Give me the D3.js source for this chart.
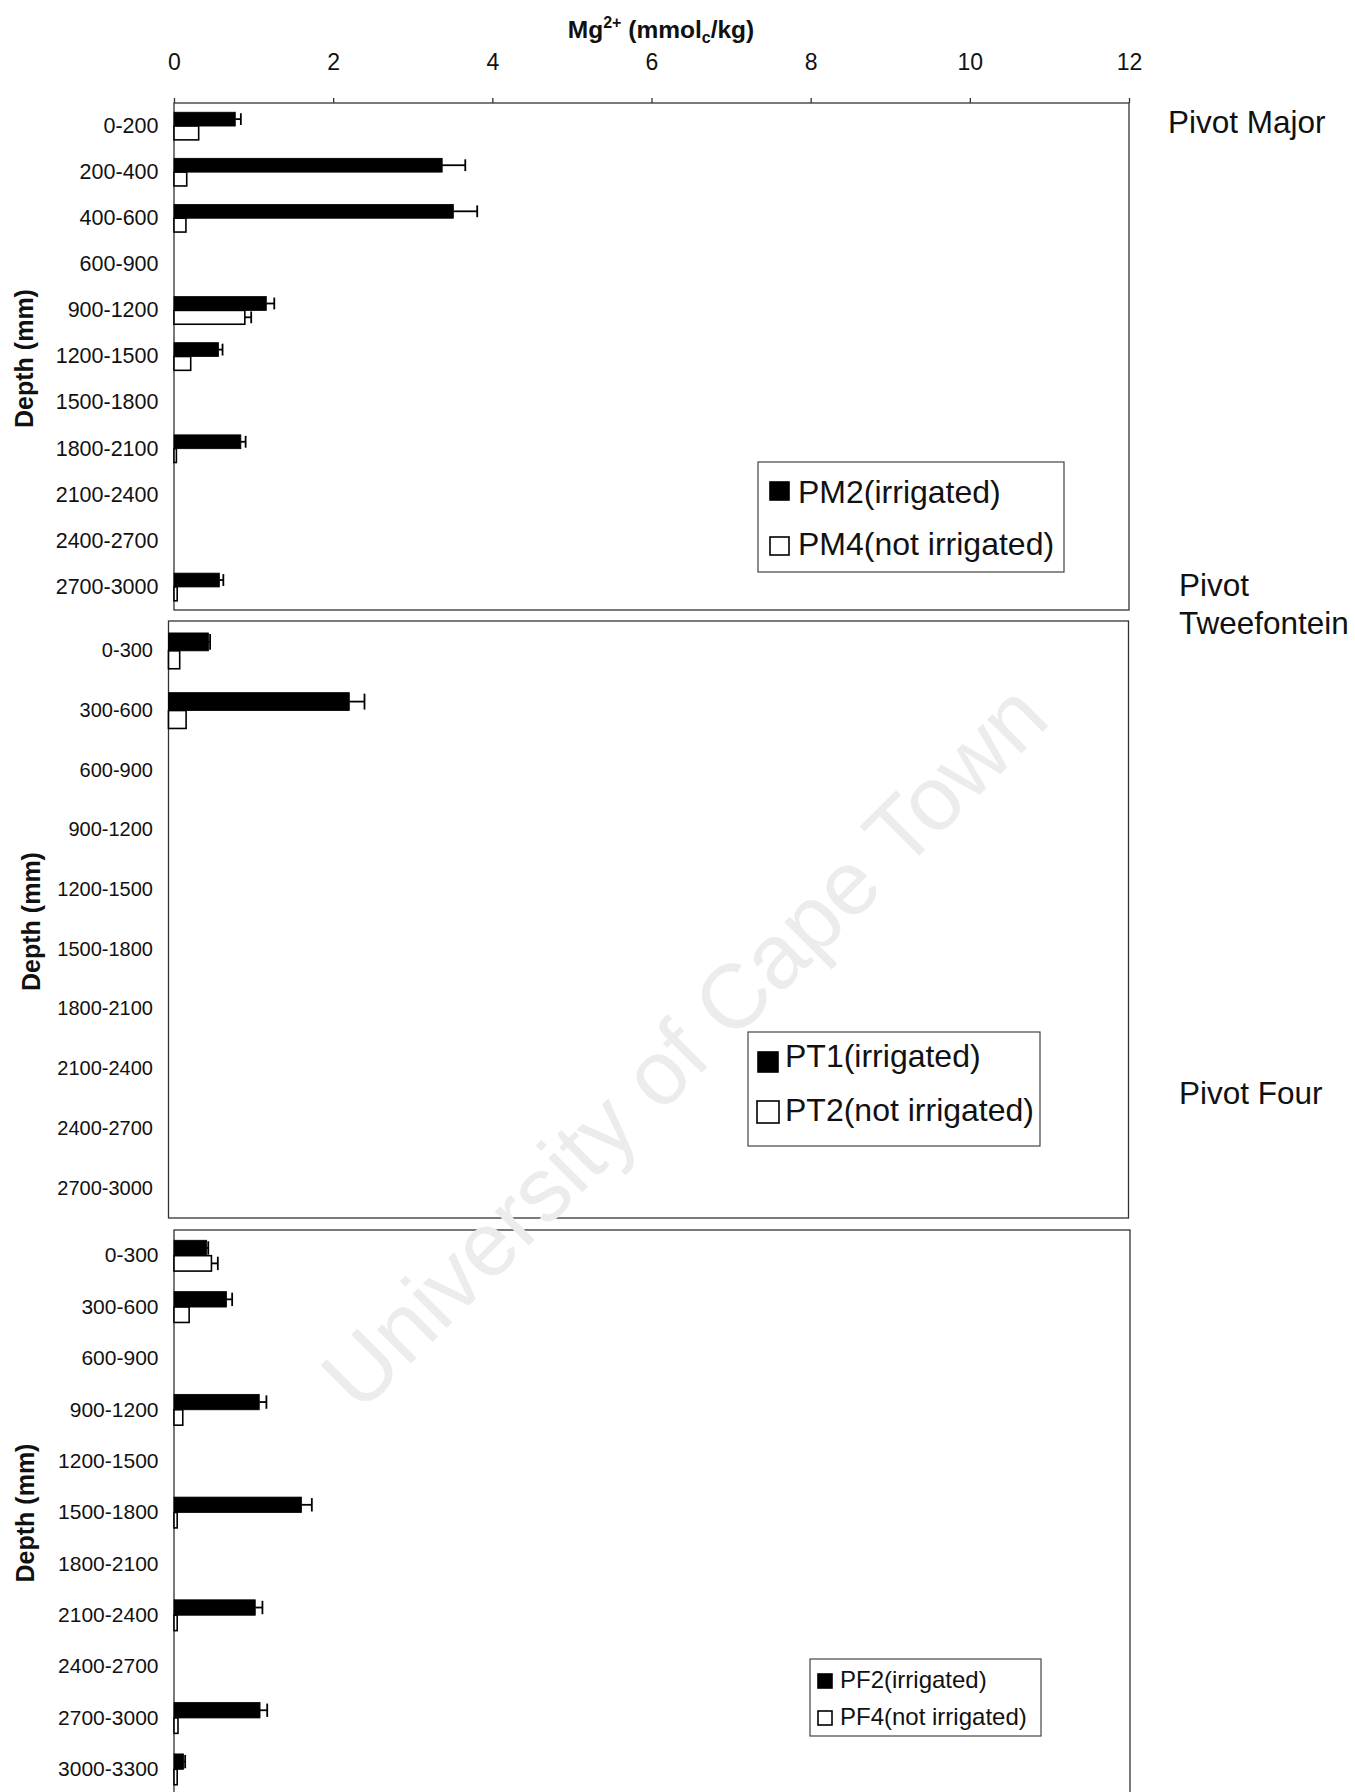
<!DOCTYPE html>
<html>
<head>
<meta charset="utf-8">
<script src="https://cdn.jsdelivr.net/npm/d3@7"></script>
<style>
  html, body { margin: 0; padding: 0; background: #fff; }
  svg { display: block; font-family: "Liberation Sans", Arial, sans-serif; }
</style>
</head>
<body>
<svg id="chart" width="1355" height="1792"></svg>
<script>
// ---- Data: Mg2+ (mmolc/kg) by depth interval (mm) ----
// Pivot Major
const pmDepths = ["0-200", "200-400", "400-600", "600-900", "900-1200", "1200-1500",
                  "1500-1800", "1800-2100", "2100-2400", "2400-2700", "2700-3000"];
const pm2    = [0.77, 3.37, 3.51, null, 1.16, 0.56, null, 0.84, null, null, 0.57];
const pm2Err = [0.07, 0.29, 0.30, null, 0.10, 0.05, null, 0.06, null, null, 0.05];
const pm4    = [0.31, 0.16, 0.15, null, 0.89, 0.21, null, 0.03, null, null, 0.04];
const pm4Err = [0, 0, 0, null, 0.08, 0, null, 0, null, null, 0];

// Pivot Tweefontein
const ptDepths = ["0-300", "300-600", "600-900", "900-1200", "1200-1500",
                  "1500-1800", "1800-2100", "2100-2400", "2400-2700", "2700-3000"];
const pt1    = [0.50, 2.26, null, null, null, null, null, null, null, null];
const pt1Err = [0.02, 0.19, null, null, null, null, null, null, null, null];
const pt2    = [0.14, 0.22, null, null, null, null, null, null, null, null];
const pt2Err = [0, 0, null, null, null, null, null, null, null, null];

// Pivot Four
const pfDepths = ["0-300", "300-600", "600-900", "900-1200", "1200-1500", "1500-1800",
                  "1800-2100", "2100-2400", "2400-2700", "2700-3000", "3000-3300"];
const pf2    = [0.41, 0.66, null, 1.07, null, 1.60, null, 1.02, null, 1.08, 0.12];
const pf2Err = [0.02, 0.07, null, 0.09, null, 0.13, null, 0.09, null, 0.09, 0.02];
const pf4    = [0.47, 0.19, null, 0.11, null, 0.04, null, 0.04, null, 0.05, 0.04];
const pf4Err = [0.08, 0, null, 0, null, 0, null, 0, null, 0, 0];

const xTicks = [0, 2, 4, 6, 8, 10, 12];
const xDomain = [0, 12];

// ---- Panel layout ----
const panels = [
  { depths: pmDepths, a: pm2, aErr: pm2Err, b: pm4, bErr: pm4Err,
    names: ["PM2(irrigated)", "PM4(not irrigated)"],
    x0: 174, x1: 1129, y0: 103, y1: 610, topAxis: true, depthX: 24, catFont: 21.5,
    site: ["Pivot Major"], siteX: 1168, siteY: 133,
    legend: { x: 758, y: 462, w: 306, h: 110, font: 32, tx: 798, base: [503, 555],
              sw: [[770, 482, 19, 18], [770, 537, 19, 18]] } },
  { depths: ptDepths, a: pt1, aErr: pt1Err, b: pt2, bErr: pt2Err,
    names: ["PT1(irrigated)", "PT2(not irrigated)"],
    x0: 168.5, x1: 1128.5, y0: 621, y1: 1218, topAxis: false, depthX: 31, catFont: 20,
    site: ["Pivot", "Tweefontein"], siteX: 1179, siteY: 596,
    legend: { x: 748, y: 1032, w: 292, h: 114, font: 32, tx: 785, base: [1067, 1121],
              sw: [[758, 1052, 20, 20], [757, 1101, 22, 22]] } },
  { depths: pfDepths, a: pf2, aErr: pf2Err, b: pf4, bErr: pf4Err,
    names: ["PF2(irrigated)", "PF4(not irrigated)"],
    x0: 174, x1: 1130, y0: 1230, y1: 1795, topAxis: false, depthX: 25, catFont: 21,
    site: ["Pivot Four"], siteX: 1179, siteY: 1104,
    legend: { x: 810, y: 1659, w: 231, h: 77, font: 24, tx: 840, base: [1688, 1725],
              sw: [[818, 1674, 14, 14], [818, 1711, 14, 14]] } }
];

const svg = d3.select("#chart");
const ink = "#111";

panels.forEach(p => {
  const g = svg.append("g");
  const x = d3.scaleLinear().domain(xDomain).range([p.x0, p.x1]);
  const y = d3.scaleBand().domain(p.depths).range([p.y0, p.y1])
    .paddingInner(0.4).paddingOuter(0.2);
  const sub = d3.scaleBand().domain(["a", "b"]).range([0, y.bandwidth()]);

  // plot frame
  g.append("rect")
    .attr("x", p.x0).attr("y", p.y0)
    .attr("width", p.x1 - p.x0).attr("height", p.y1 - p.y0)
    .attr("fill", "none").attr("stroke", "#333").attr("stroke-width", 1.3);

  // top value axis (first panel only)
  if (p.topAxis) {
    const ax = g.append("g").attr("transform", `translate(0,${p.y0})`)
      .call(d3.axisTop(x).tickValues(xTicks).tickFormat(d3.format("d"))
        .tickSize(5).tickPadding(28));
    ax.select(".domain").remove();
    ax.selectAll("line").attr("stroke", "#333").attr("stroke-width", 1.3);
    ax.selectAll("text").attr("font-size", 23).attr("fill", ink)
      .attr("font-family", "Liberation Sans, Arial, sans-serif");
  }

  // depth category axis
  const ay = g.append("g").attr("transform", `translate(${p.x0},0)`)
    .call(d3.axisLeft(y).tickSize(0).tickPadding(15.5));
  ay.select(".domain").remove();
  ay.selectAll("text").attr("font-size", p.catFont).attr("fill", ink)
    .attr("font-family", "Liberation Sans, Arial, sans-serif");

  // bars
  const series = [
    { key: "a", vals: p.a, errs: p.aErr, fill: "#000" },
    { key: "b", vals: p.b, errs: p.bErr, fill: "#fff" }
  ];
  series.forEach(s => {
    const rows = p.depths.map((d, i) => ({ d, v: s.vals[i], e: s.errs[i] }))
      .filter(r => r.v != null);
    const h = sub.bandwidth();
    g.append("g").selectAll("rect").data(rows).join("rect")
      .attr("x", x(0))
      .attr("y", r => y(r.d) + sub(s.key))
      .attr("width", r => x(r.v) - x(0))
      .attr("height", h)
      .attr("fill", s.fill)
      .attr("stroke", "#000")
      .attr("stroke-width", s.key === "b" ? 1.6 : 0.8);

    const eb = g.append("g").attr("stroke", "#000").attr("stroke-width", 1.8)
      .selectAll("g").data(rows.filter(r => r.e > 0)).join("g");
    eb.append("line")
      .attr("x1", r => x(r.v)).attr("x2", r => x(r.v + r.e))
      .attr("y1", r => y(r.d) + sub(s.key) + h / 2)
      .attr("y2", r => y(r.d) + sub(s.key) + h / 2);
    eb.append("line")
      .attr("x1", r => x(r.v + r.e)).attr("x2", r => x(r.v + r.e))
      .attr("y1", r => y(r.d) + sub(s.key) + 1)
      .attr("y2", r => y(r.d) + sub(s.key) + h - 1);
  });

  // y axis title
  g.append("text")
    .attr("transform", `translate(${p.depthX},${(p.y0 + Math.min(p.y1, 1792)) / 2 + 2}) rotate(-90)`)
    .attr("text-anchor", "middle").attr("dominant-baseline", "central")
    .attr("font-size", 25).attr("font-weight", "bold").attr("fill", ink)
    .text("Depth (mm)");

  // site label
  const st = g.append("text").attr("x", p.siteX).attr("y", p.siteY)
    .attr("font-size", 31.5).attr("fill", ink);
  p.site.forEach((line, i) => {
    st.append("tspan").attr("x", p.siteX).attr("dy", i === 0 ? 0 : 38).text(line);
  });

  // legend
  const L = p.legend;
  const lg = g.append("g");
  lg.append("rect").attr("x", L.x).attr("y", L.y).attr("width", L.w).attr("height", L.h)
    .attr("fill", "#fff").attr("stroke", "#444").attr("stroke-width", 1.2);
  [0, 1].forEach(i => {
    const [sx, sy, sw, sh] = L.sw[i];
    lg.append("rect").attr("x", sx).attr("y", sy).attr("width", sw).attr("height", sh)
      .attr("fill", i === 0 ? "#000" : "#fff").attr("stroke", "#000").attr("stroke-width", 1.6);
    lg.append("text").attr("x", L.tx).attr("y", L.base[i])
      .attr("font-size", L.font).attr("fill", ink).text(p.names[i]);
  });
});

// value axis title: Mg2+ (mmolc/kg)
const title = svg.append("text").attr("x", 661).attr("y", 38)
  .attr("text-anchor", "middle").attr("font-size", 24.5).attr("font-weight", "bold").attr("fill", ink);
title.append("tspan").text("Mg");
title.append("tspan").attr("font-size", 16).attr("dy", -10).text("2+");
title.append("tspan").attr("dy", 10).text(" (mmol");
title.append("tspan").attr("font-size", 16).attr("dy", 5).text("c");
title.append("tspan").attr("dy", -5).text("/kg)");

// repository watermark
svg.append("text")
  .attr("transform", "translate(684,1046) rotate(-45)")
  .attr("text-anchor", "middle").attr("dominant-baseline", "central")
  .attr("font-size", 91).attr("fill", "#ececec")
  .text("University of Cape Town");
</script>
</body>
</html>
